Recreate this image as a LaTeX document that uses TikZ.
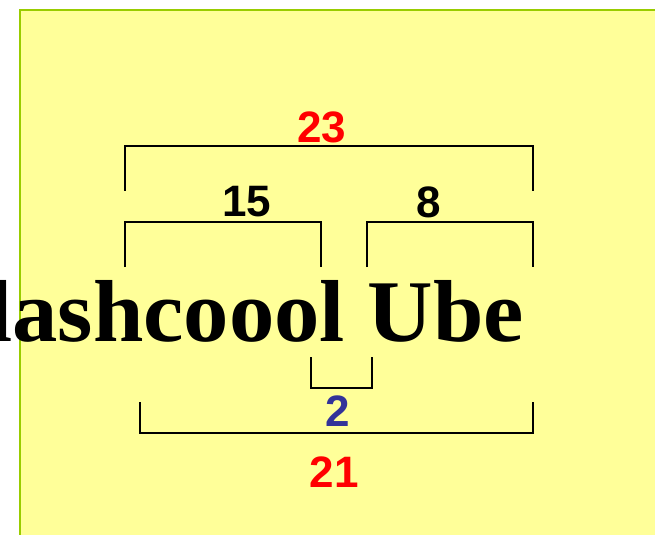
\documentclass[tikz,border=0pt]{standalone}
\usepackage{fontspec}
\newfontfamily\numfont{Liberation Sans}
\newfontfamily\wordserif{Liberation Serif}
\definecolor{boxfill}{HTML}{FFFF99}
\definecolor{boxline}{HTML}{99CC00}
\definecolor{numred}{HTML}{FF0000}
\definecolor{numblue}{HTML}{333399}
\begin{document}
\begin{tikzpicture}[x=0.75pt,y=-0.75pt,
  brace/.style={draw=black,line width=1.2pt},
  num/.style={inner sep=0pt,font=\numfont\bfseries\fontsize{33}{36}\selectfont}]
\useasboundingbox (0,0) rectangle (655,534);
\begin{scope}
\clip (0,0) rectangle (655,534);
% sheet
\draw[fill=boxfill,draw=boxline,line width=1.5pt] (20,10) -- (665,10) -- (665,544) -- (20,544) -- cycle;
% word
\node[inner sep=0pt,anchor=base east,xscale=1.03,font=\wordserif\bfseries\fontsize{66}{72}\selectfont] (word) at (524,341) {lashcoool Ube};
\end{scope}
% bracket corners
\coordinate (a1) at (125,191); \coordinate (a2) at (125,146);
\coordinate (a3) at (533,146); \coordinate (a4) at (533,191);
\coordinate (b1) at (125,267); \coordinate (b2) at (125,222);
\coordinate (b3) at (321,222); \coordinate (b4) at (321,267);
\coordinate (c1) at (367,267); \coordinate (c2) at (367,222);
\coordinate (c3) at (533,222); \coordinate (c4) at (533,267);
\coordinate (d1) at (311,357); \coordinate (d2) at (311,388);
\coordinate (d3) at (372,388); \coordinate (d4) at (372,357);
\coordinate (e1) at (140,402); \coordinate (e2) at (140,433);
\coordinate (e3) at (533,433); \coordinate (e4) at (533,402);
\draw[brace] (a1) -- (a2) -- (a3) -- (a4);
\draw[brace] (b1) -- (b2) -- (b3) -- (b4);
\draw[brace] (c1) -- (c2) -- (c3) -- (c4);
\draw[brace] (d1) -- (d2) -- (d3) -- (d4);
\draw[brace] (e1) -- (e2) -- (e3) -- (e4);
% counts
\node[num,text=numred] (n23) at (322,127) {23};
\node[num,text=black] (n15) at (247,202) {15};
\node[num,text=black] (n8) at (429,202) {8};
\node[num,text=numblue] (n2) at (338,411) {2};
\node[num,text=numred] (n21) at (334,472) {21};
\end{tikzpicture}
\end{document}
